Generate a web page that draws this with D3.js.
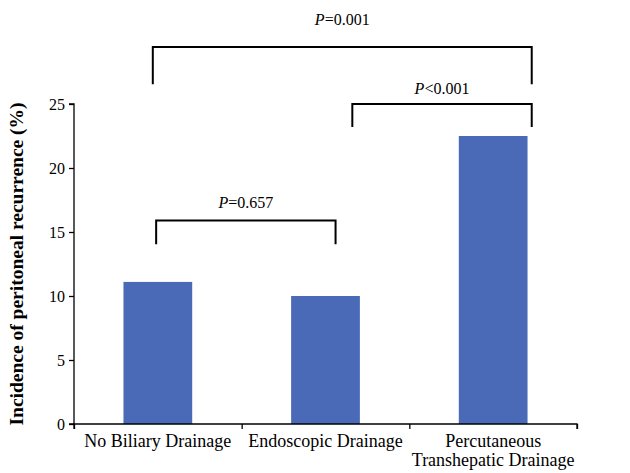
<!DOCTYPE html>
<html><head><meta charset="utf-8">
<script src="https://cdn.jsdelivr.net/npm/d3@7"></script>
<style>body{margin:0;background:#fff}svg{display:block}text{font-family:"Liberation Serif","Times New Roman",serif;fill:#000}</style>
</head><body><svg id="c" width="630" height="473" font-family="Liberation Serif, Times New Roman, serif"></svg>
<script>
const categories = ["No Biliary Drainage", "Endoscopic Drainage", "Percutaneous Transhepatic Drainage"];
const categoryLines = [["No Biliary Drainage"], ["Endoscopic Drainage"], ["Percutaneous", "Transhepatic Drainage"]];
const values = [11.1, 10.0, 22.5];
const yTicks = [0, 5, 10, 15, 20, 25];
const yLabel = "Incidence of peritoneal recurrence (%)";
// comparisons: category-index span, bracket top/leg levels (in %), label level (in %)
const bracketFrom = [-0.03, 1.16, -0.01];
const bracketTo = [2.23, 2.23, 1.06];
const bracketTop = [29.45, 25.0, 15.9];
const bracketLeg = [26.55, 23.2, 14.05];
const pPrefix = ["=", "<", "="];
const pValue = ["0.001", "0.001", "0.657"];
const labelLevel = [31.2, 25.8, 16.9];

const FONT = "Liberation Serif, Times New Roman, serif";
const svg = d3.select("#c");
const L = 74, R = 577, T = 104, B = 424;
const x = d3.scaleBand().domain(categories).range([L, R]).paddingInner(0.59).paddingOuter(0.295);
const xi = d3.scaleLinear().domain([-0.5, 2.5]).range([L, R]);
const y = d3.scaleLinear().domain([0, 25]).range([B, T]);

svg.selectAll("rect.bar").data(values).join("rect").attr("class","bar")
  .attr("x",(d,i)=>x(categories[i])).attr("width",x.bandwidth())
  .attr("y",d=>y(d)).attr("height",d=>B-y(d)).attr("fill","#4A69B6");

// y axis
const ya = svg.append("g").attr("transform",`translate(${L},0)`)
  .call(d3.axisLeft(y).tickValues(yTicks).tickSize(5).tickPadding(4));
ya.attr("font-family",FONT).attr("font-size",16);
ya.select(".domain").attr("stroke","#000").attr("stroke-width",1.3).attr("d",`M-5,${T}H0V${B}H-5`);
ya.selectAll(".tick line").attr("stroke","#000").attr("stroke-width",1.3);
ya.selectAll(".tick text").attr("font-size",16).attr("font-family",FONT).attr("fill","#000");

// x axis
const xa = svg.append("g").attr("transform",`translate(0,${B})`)
  .call(d3.axisBottom(xi).tickValues([-0.5,0.5,1.5,2.5]).tickSize(5).tickFormat(""));
xa.select(".domain").attr("stroke","#000").attr("stroke-width",1.3).attr("d",`M${L},5V0H${R}V5`);
xa.selectAll(".tick line").attr("stroke","#000").attr("stroke-width",1.3);

// category labels
categoryLines.forEach((lines,i)=>{
  const cx = x(categories[i]) + x.bandwidth()/2;
  const t = svg.append("text").attr("text-anchor","middle").attr("font-size",18).attr("font-family",FONT)
    .attr("x", cx).attr("y", B + 23);
  lines.forEach((ln,j)=>t.append("tspan").attr("x", cx).attr("dy", j===0?0:19).text(ln));
});

// y label
svg.append("text").attr("transform",`translate(23,${(T+B)/2}) rotate(-90)`).attr("font-family",FONT)
  .attr("text-anchor","middle").attr("font-size",19.5).attr("font-weight","bold").text(yLabel);

// brackets
bracketFrom.forEach((f,i)=>{
  const x1 = xi(f), x2 = xi(bracketTo[i]);
  svg.append("path").attr("fill","none").attr("stroke","#000").attr("stroke-width",2)
    .attr("d",`M${x1},${y(bracketLeg[i])}V${y(bracketTop[i])}H${x2}V${y(bracketLeg[i])}`);
  const t = svg.append("text").attr("text-anchor","middle").attr("font-size",16).attr("font-family",FONT)
    .attr("x",(x1+x2)/2).attr("y",y(labelLevel[i]));
  t.append("tspan").attr("font-style","italic").text("P");
  t.append("tspan").text(pPrefix[i] + pValue[i]);
});
</script></body></html>
